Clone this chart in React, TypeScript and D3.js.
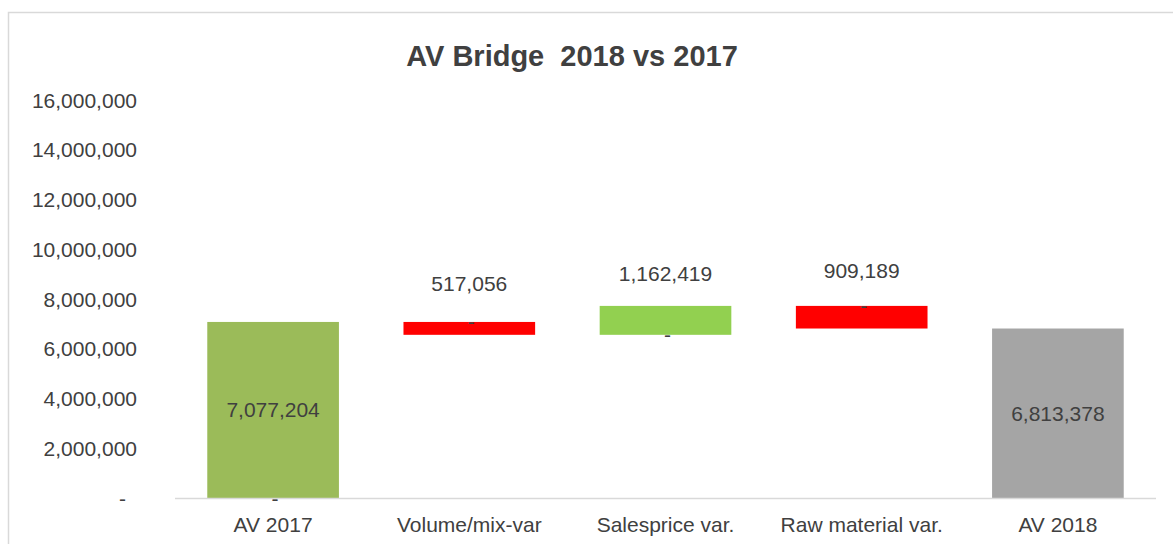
import React from "react";
import * as d3 from "d3";

const categories = ["AV 2017", "Volume/mix-var", "Salesprice var.", "Raw material var.", "AV 2018"];
// invisible base series (stacked bridge)
const baseValues = [0, 6560148, 6560148, 6813378, 0];
const totalValues = [7077204, 0, 0, 0, 6813378];
const decreaseValues = [0, 517056, 0, 909189, 0];
const increaseValues = [0, 0, 1162419, 0, 0];
// invisible label-carrier series for the variance labels
const labelAnchorValues = [null, 8640000, 9020000, 9160000, null];
// zero-valued helper series shown as "-" labels (at the previous running total)
const dashLevels = [0, 7077204, 6560148, 7722567, null];
const yTicks = [0, 2000000, 4000000, 6000000, 8000000, 10000000, 12000000, 14000000, 16000000];
const title = "AV Bridge  2018 vs 2017";

const W = 1173;
const H = 544;
const FONT = "'Liberation Sans', Arial, sans-serif";
const TEXT = "#404040";
const totalColors = ["#9BBB59", null, null, null, "#A5A5A5"];
const DECREASE = "#FF0000";
const INCREASE = "#92D050";

export default function App() {
  const x = d3
    .scaleBand<string>()
    .domain(categories)
    .range([175, 1156])
    .paddingInner(0.329)
    .paddingOuter(0.329 / 2);
  const y = d3.scaleLinear().domain([0, 16000000]).range([498, 100]);
  const fmt = d3.format(",");

  const bars: { key: string; x: number; y0: number; y1: number; color: string }[] = [];
  categories.forEach((c, i) => {
    const bx = x(c)!;
    let cum = baseValues[i];
    if (totalValues[i] > 0) {
      bars.push({ key: c + "t", x: bx, y0: cum, y1: cum + totalValues[i], color: totalColors[i] as string });
      cum += totalValues[i];
    }
    if (decreaseValues[i] > 0) {
      bars.push({ key: c + "d", x: bx, y0: cum, y1: cum + decreaseValues[i], color: DECREASE });
      cum += decreaseValues[i];
    }
    if (increaseValues[i] > 0) {
      bars.push({ key: c + "i", x: bx, y0: cum, y1: cum + increaseValues[i], color: INCREASE });
      cum += increaseValues[i];
    }
  });

  return (
    <svg
      width={W}
      height={H}
      style={{ position: "absolute", left: 0, top: 0, background: "#fff" }}
      fontFamily={FONT}
    >
      <rect x={8.5} y={12.5} width={1300} height={700} fill="#fff" stroke="#D9D9D9" strokeWidth={1.5} />
      <text
        x={572}
        y={56}
        textAnchor="middle"
        dominantBaseline="central"
        fontSize={29}
        fontWeight="bold"
        fill={TEXT}
        style={{ whiteSpace: "pre" }}
      >
        {title}
      </text>

      {yTicks.map((t) => (
        <text
          key={t}
          x={137}
          dx={t === 0 ? -11 : 0}
          y={y(t)}
          textAnchor="end"
          dominantBaseline="central"
          fontSize={21}
          fill={TEXT}
        >
          {t === 0 ? "-" : fmt(t)}
        </text>
      ))}

      {bars.map((b) => (
        <rect
          key={b.key}
          x={b.x}
          y={y(b.y1)}
          width={x.bandwidth()}
          height={y(b.y0) - y(b.y1)}
          fill={b.color}
        />
      ))}

      <line x1={175} x2={1156} y1={y(0) + 0.5} y2={y(0) + 0.5} stroke="#D9D9D9" strokeWidth={1.5} />

      {categories.map((c, i) =>
        totalValues[i] > 0 ? (
          <text
            key={c + "tl"}
            x={x(c)! + x.bandwidth() / 2}
            y={y(baseValues[i] + totalValues[i] / 2)}
            textAnchor="middle"
            dominantBaseline="central"
            fontSize={21}
            fill={TEXT}
          >
            {fmt(totalValues[i])}
          </text>
        ) : null
      )}

      {categories.map((c, i) => {
        const a = labelAnchorValues[i];
        if (a == null) return null;
        const v = decreaseValues[i] + increaseValues[i];
        return (
          <text
            key={c + "vl"}
            x={x(c)! + x.bandwidth() / 2}
            y={y(a)}
            textAnchor="middle"
            dominantBaseline="central"
            fontSize={21}
            fill={TEXT}
          >
            {fmt(v)}
          </text>
        );
      })}

      {categories.map((c, i) => {
        const d = dashLevels[i];
        if (d == null) return null;
        return (
          <text
            key={c + "dash"}
            x={x(c)! + x.bandwidth() / 2 + 2}
            y={y(d)}
            textAnchor="middle"
            dominantBaseline="central"
            fontSize={21}
            fill={TEXT}
          >
            -
          </text>
        );
      })}

      {categories.map((c) => (
        <text
          key={c + "x"}
          x={x(c)! + x.bandwidth() / 2}
          y={524}
          textAnchor="middle"
          dominantBaseline="central"
          fontSize={21}
          fill={TEXT}
        >
          {c}
        </text>
      ))}
    </svg>
  );
}
